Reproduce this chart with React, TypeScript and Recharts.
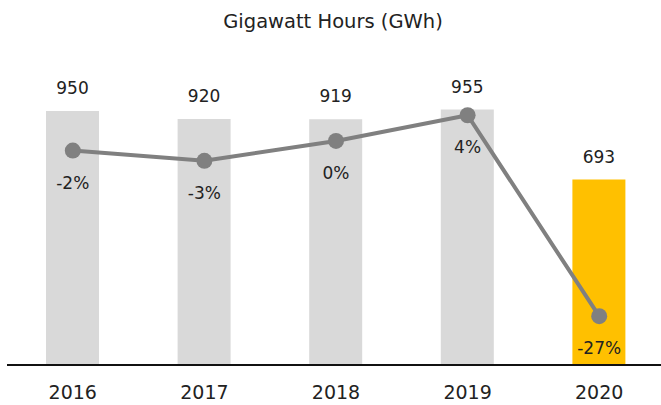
import { ComposedChart, Bar, Line, XAxis, YAxis, Cell, LabelList } from "recharts"

const years = ["2016", "2017", "2018", "2019", "2020"]
const gwh = [950, 920, 919, 955, 693]
const yoyPct = [-1.6, -3.2, -0.1, 3.9, -27.4]

const GREY_BAR = "#d9d9d9"
const HIGHLIGHT = "#ffc000"
const LINE_GREY = "#808080"
const TEXT = "#222"
const FONT = "'DejaVu Sans', sans-serif"

const chartData = years.map((year, i) => ({
  year,
  gwh: gwh[i],
  pct: yoyPct[i],
}))

const fmtPct = (v: number) => {
  const r = Math.round(v)
  return `${r === 0 ? 0 : r}%`
}

const BarValueLabel = (props: any) => {
  const { x, y, width, value } = props
  return (
    <text x={x + width / 2} y={y - 17} textAnchor="middle" fontSize={17} fill={TEXT} fontFamily={FONT}>
      {value}
    </text>
  )
}

const PctLabel = (props: any) => {
  const { x, y, value } = props
  return (
    <text x={x} y={y + 38} textAnchor="middle" fontSize={17} fill={TEXT} fontFamily={FONT}>
      {fmtPct(Number(value))}
    </text>
  )
}

export default function App() {
  return (
    <div
      style={{
        position: "absolute",
        left: 0,
        top: 0,
        width: 661,
        height: 405,
        overflow: "hidden",
        background: "#fff",
        fontFamily: FONT,
      }}
    >
      <div
        style={{
          position: "absolute",
          left: 0,
          top: 12,
          width: 666,
          textAlign: "center",
          fontSize: 19.5,
          lineHeight: "20px",
          color: TEXT,
        }}
      >
        Gigawatt Hours (GWh)
      </div>
      <ComposedChart
        width={665}
        height={405}
        data={chartData}
        margin={{ top: 44, right: 0, left: 7, bottom: 0 }}
      >
        <XAxis
          dataKey="year"
          height={40}
          axisLine={{ stroke: "#111", strokeWidth: 2 }}
          tickLine={false}
          tickSize={0}
          tickMargin={21}
          tick={{ fontSize: 19, fill: TEXT, fontFamily: FONT }}
          interval={0}
        />
        <YAxis yAxisId="gwh" hide domain={[0, 1200]} />
        <YAxis yAxisId="pct" orientation="right" hide domain={[-35, 15]} />
        <Bar yAxisId="gwh" dataKey="gwh" barSize={53} isAnimationActive={false}>
          {chartData.map((entry, index) => (
            <Cell key={`cell-${index}`} fill={entry.year === "2020" ? HIGHLIGHT : GREY_BAR} />
          ))}
          <LabelList dataKey="gwh" content={BarValueLabel} />
        </Bar>
        <Line
          yAxisId="pct"
          dataKey="pct"
          stroke={LINE_GREY}
          strokeWidth={4}
          dot={{ r: 8, fill: LINE_GREY, stroke: "none" }}
          activeDot={false}
          isAnimationActive={false}
        >
          <LabelList dataKey="pct" content={PctLabel} />
        </Line>
      </ComposedChart>
    </div>
  )
}
